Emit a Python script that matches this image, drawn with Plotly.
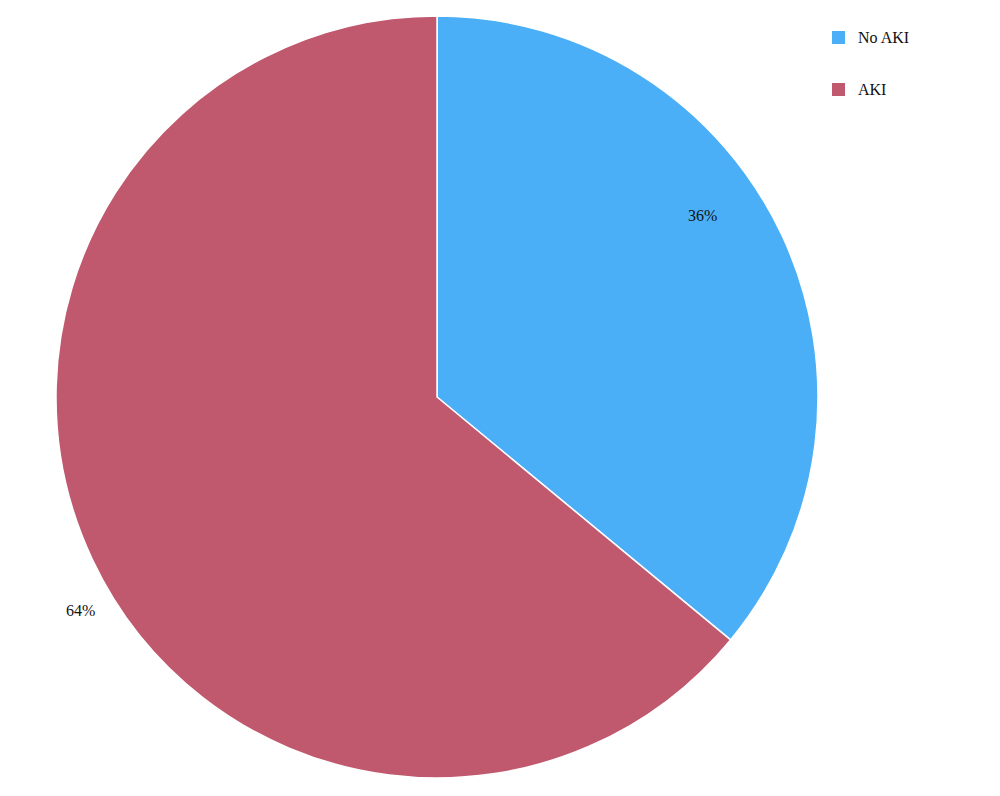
import math
import plotly.graph_objects as go

labels = ["No AKI", "AKI"]
values = [36, 64]
colors = ["#4BAFF8", "#C0596E"]
text_labels = ["36%", "64%"]

W, H = 1000, 796
OFF = 8  # page body margin offset
# pie geometry (pixels, in screenshot coordinates)
cx, cy, R = 437 - OFF, 397 - OFF, 381
# label placement style: radial factor and angle nudge (deg)
label_rfac = [0.845, 1.09]
label_nudge = [-9.2, -5.7]
FONT = "Liberation Serif"

fig = go.Figure()
fig.add_trace(go.Pie(
    labels=labels, values=values, sort=False, direction="clockwise", rotation=0,
    marker=dict(colors=colors, line=dict(color="white", width=1.5)),
    textinfo="none", hoverinfo="label+percent", showlegend=False,
    domain=dict(x=[(cx - R) / W, (cx + R) / W], y=[(H - cy - R) / H, (H - cy + R) / H]),
))

total = sum(values)
cum = 0
annotations = []
for i, v in enumerate(values):
    mid = (cum + v / 2) / total * 360 + label_nudge[i]
    cum += v
    r = R * label_rfac[i]
    px = cx + r * math.sin(math.radians(mid))
    py = cy - r * math.cos(math.radians(mid))
    annotations.append(dict(x=px / W, y=(H - py) / H, xref="paper", yref="paper",
                            xanchor="center", yanchor="middle",
                            text=text_labels[i], showarrow=False,
                            font=dict(family=FONT, size=16, color="#111111")))

shapes = []
lx, ly0, gap, box = 832 - OFF, 31 - OFF, 52, 13
for i, lab in enumerate(labels):
    top = ly0 + i * gap
    shapes.append(dict(type="rect", xref="paper", yref="paper",
                       x0=lx / W, x1=(lx + box) / W,
                       y0=(H - top - box) / H, y1=(H - top) / H,
                       fillcolor=colors[i], line=dict(width=0)))
    annotations.append(dict(x=(lx + box + 11) / W, y=(H - top - box / 2) / H,
                            xref="paper", yref="paper", xanchor="left", yanchor="middle",
                            text=lab, showarrow=False,
                            font=dict(family=FONT, size=16, color="#111111")))

fig.update_layout(
    width=W, height=H, margin=dict(l=0, r=0, t=0, b=0),
    paper_bgcolor="white", plot_bgcolor="white",
    annotations=annotations, shapes=shapes,
)
fig.write_html("out.html")
